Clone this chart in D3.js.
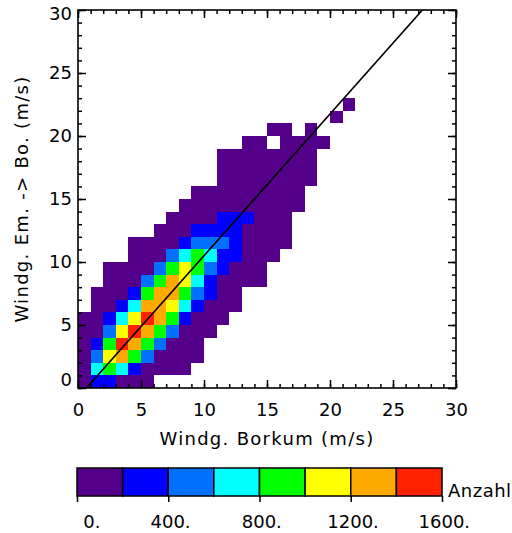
<!DOCTYPE html>
<html>
<head>
<meta charset="utf-8">
<script src="https://cdn.jsdelivr.net/npm/d3@7"></script>
<style>
body { margin: 0; background: #fff; }
svg text { font-family: "DejaVu Sans", sans-serif; font-size: 18px; fill: #000; }
</style>
</head>
<body>
<svg width="512" height="533"></svg>
<script>
// 2D histogram, 1 m/s bins. one row per Emden->Borkum bin (y = 0..22),
// rowStart = first Borkum bin of the row, rowCounts = counts from there on (null = empty)
var rowStart = [0, 0, 0, 0, 0, 0, 1, 1, 2, 2, 4, 4, 6, 7, 8, 9, 11, 11, 11, 13, 15, 20, 21]
var rowCounts = [
  [100, 300, 300, 100, 100, 100],
  [100, 700, 900, 700, 300, 100, 100, 100, 100],
  [100, 500, 1100, 1300, 900, 500, 100, 100, 100, 100],
  [100, 300, 900, 1500, 1300, 900, 500, 100, 100, 100],
  [100, 100, 500, 1100, 1500, 1300, 900, 500, 100, 100, 100],
  [100, 100, 300, 700, 1100, 1500, 1300, 900, 300, 100, 100, 100],
  [100, 100, 300, 700, 1300, 1300, 1100, 700, 300, 100, 100, 100],
  [100, 100, 100, 300, 900, 1300, 1300, 900, 500, 300, 100, 100],
  [100, 100, 100, 500, 900, 1300, 1100, 700, 300, 100, 100, 100, 100],
  [100, 100, 100, 100, 500, 900, 1100, 900, 500, 300, 100, 100, 100],
  [100, 100, 100, 500, 700, 900, 700, 300, 300, 100, 100, 100],
  [100, 100, 100, 100, 300, 500, 500, 500, 300, 100, 100, 100, 100],
  [100, 100, 100, 300, 300, 300, 300, 100, 100, 100, 100],
  [100, 100, 100, 100, 300, 300, 300, 100, 100, 100],
  [100, 100, 100, 100, 100, 100, 100, 100, 100, 100],
  [100, 100, 100, 100, 100, 100, 100, 100, 100],
  [100, 100, 100, 100, 100, 100, 100, 100],
  [100, 100, 100, 100, 100, 100, 100, 100],
  [100, 100, 100, 100, 100, 100, 100, 100],
  [100, 100, null, 100, 100, 100, 100],
  [100, 100, null, 100],
  [100],
  [100]
]

var levels = [0, 200, 400, 600, 800, 1000, 1200, 1400, 1600]
var levelColors = ["#55008a", "#0000ff", "#0070ff", "#00ffff", "#00ff00", "#ffff00", "#ffaa00", "#ff2200"]
var barTicks = [0, 400, 800, 1200, 1600]
var barLabels = ["0.", "400.", "800.", "1200.", "1600."]

var axisTicks = [0, 5, 10, 15, 20, 25, 30]
// fit line drawn across the plot
var fitIntercept = -0.75
var fitSlope = 1.125

var svg = d3.select("svg")
var x = d3.scaleLinear().domain([0, 30]).range([78, 456])
var y = d3.scaleLinear().domain([0, 30]).range([388, 10])
var color = d3.scaleThreshold().domain(levels.slice(1, -1)).range(levelColors)

var cells = []
rowCounts.forEach(function(row, j){
  row.forEach(function(c, k){
    if (c != null) cells.push({i: rowStart[j] + k, j: j, n: c})
  })
})

svg.append("g")
  .selectAll("rect")
  .data(cells)
  .enter()
  .append("rect")
    .attr("x", function(d){ return x(d.i) })
    .attr("y", function(d){ return y(d.j + 1) })
    .attr("width", function(d){ return x(d.i + 1) - x(d.i) })
    .attr("height", function(d){ return y(d.j) - y(d.j + 1) })
    .attr("fill", function(d){ return color(d.n) })
    .attr("shape-rendering", "crispEdges")

svg.append("clipPath").attr("id", "plotclip")
  .append("rect")
    .attr("x", x(0)).attr("y", y(30))
    .attr("width", x(30) - x(0)).attr("height", y(0) - y(30))

var lineData = [0, 30].map(function(v){ return [v, fitIntercept + fitSlope * v] })
svg.append("path")
  .datum(lineData)
  .attr("clip-path", "url(#plotclip)")
  .attr("fill", "none")
  .attr("stroke", "#000")
  .attr("stroke-width", 1.6)
  .attr("d", d3.line().x(function(d){ return x(d[0]) }).y(function(d){ return y(d[1]) }))

// axes, ticks inward on all four sides
function addAxis(axis, tx, ty, major){
  var g = svg.append("g").attr("transform", "translate(" + tx + "," + ty + ")").call(axis)
  g.select(".domain").remove()
  g.selectAll("line").attr("stroke", "#000").attr("stroke-width", 1.5)
  g.selectAll("text").style("font-size", "18px").style("font-family", "DejaVu Sans")
  return g
}
var minor = d3.range(0, 31)
addAxis(d3.axisBottom(x).tickValues(minor).tickSize(-4).tickFormat(""), 0, y(0))
addAxis(d3.axisTop(x).tickValues(minor).tickSize(-4).tickFormat(""), 0, y(30))
addAxis(d3.axisLeft(y).tickValues(minor).tickSize(-4).tickFormat(""), x(0), 0)
addAxis(d3.axisRight(y).tickValues(minor).tickSize(-4).tickFormat(""), x(30), 0)

addAxis(d3.axisBottom(x).tickValues(axisTicks).tickSize(-8).tickPadding(15), 0, y(0))
addAxis(d3.axisTop(x).tickValues(axisTicks).tickSize(-8).tickFormat(""), 0, y(30))
var yAx = addAxis(d3.axisLeft(y).tickValues(axisTicks).tickSize(-8).tickPadding(6), x(0), 0)
addAxis(d3.axisRight(y).tickValues(axisTicks).tickSize(-8).tickFormat(""), x(30), 0)

// end labels sit inside the axis range
yAx.selectAll("text").attr("dy", function(d){
  if (d == 0) return "-0.15em"
  if (d == 30) return "0.55em"
  return "0.32em"
})

svg.append("rect")
  .attr("x", x(0)).attr("y", y(30))
  .attr("width", x(30) - x(0)).attr("height", y(0) - y(30))
  .attr("fill", "none").attr("stroke", "#000").attr("stroke-width", 1.6)

svg.append("text")
  .attr("x", (x(0) + x(30)) / 2).attr("y", 445)
  .attr("text-anchor", "middle")
  .style("letter-spacing", "1.3px")
  .text("Windg. Borkum (m/s)")

svg.append("text")
  .attr("transform", "translate(28," + (y(0) + y(30)) / 2 + ") rotate(-90)")
  .attr("text-anchor", "middle")
  .style("letter-spacing", "1.3px")
  .text("Windg. Em. -> Bo. (m/s)")

// colour bar
var cb = d3.scaleLinear().domain([0, 1600]).range([77, 442])
svg.append("g")
  .selectAll("rect")
  .data(levelColors)
  .enter()
  .append("rect")
    .attr("x", function(d, k){ return cb(levels[k]) })
    .attr("y", 468)
    .attr("width", function(d, k){ return cb(levels[k + 1]) - cb(levels[k]) })
    .attr("height", 28)
    .attr("fill", function(d){ return d })
    .attr("stroke", "#000")
    .attr("stroke-width", 1.5)

var cbAx = addAxis(d3.axisBottom(cb).tickValues(barTicks).tickSize(6).tickPadding(13)
  .tickFormat(function(d, k){ return barLabels[k] }), 0, 496)
cbAx.selectAll("text").attr("dx", function(d){ return d == 0 ? "0.8em" : "0.1em" })

svg.append("text")
  .attr("x", 448).attr("y", 497)
  .style("letter-spacing", "0.5px")
  .text("Anzahl")
</script>
</body>
</html>
